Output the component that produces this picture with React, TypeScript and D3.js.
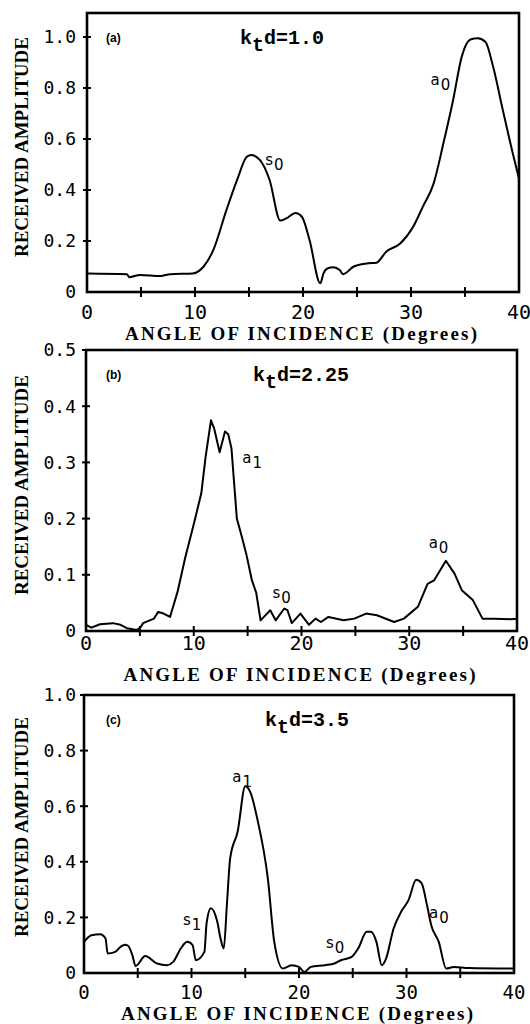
import React from "react";
import * as d3 from "d3";

// ---------- data ----------
const X_LABEL_TICKS = [0, 10, 20, 30, 40];
const X_MARK_TICKS = [5, 10, 15, 20, 25, 30, 35];

const ANGLE_A = [0, 3.7, 3.9, 4.9, 6.8, 7.7, 9.8, 10.8, 11.7, 12.9, 13.9, 14.8, 15.2, 16.0, 16.9, 17.9, 18.5, 19.3, 19.9, 20.6, 21.6, 21.9, 22.3, 22.8, 23.4, 23.7, 24.7, 25.9, 26.8, 27.7, 29.0, 30.2, 31.1, 32.1, 33.0, 33.9, 34.7, 35.5, 36.2, 36.9, 37.6, 38.5, 39.5, 40];
const AMP_A = [0.073, 0.07, 0.058, 0.067, 0.063, 0.07, 0.073, 0.1, 0.165, 0.32, 0.44, 0.53, 0.537, 0.518, 0.44, 0.28, 0.29, 0.31, 0.295, 0.205, 0.034, 0.073, 0.093, 0.097, 0.086, 0.07, 0.1, 0.112, 0.115, 0.158, 0.19, 0.256, 0.335, 0.426, 0.583, 0.753, 0.923, 0.99, 0.995, 0.98, 0.884, 0.714, 0.53, 0.445];

const ANGLE_B = [0, 0.5, 1.3, 2.5, 3.2, 3.8, 4.7, 5.0, 5.3, 6.3, 6.7, 7.2, 7.8, 8.5, 9.2, 10.0, 10.7, 11.1, 11.6, 11.9, 12.4, 12.9, 13.2, 13.5, 14.0, 14.5, 14.9, 15.4, 15.8, 16.2, 16.8, 17.1, 17.6, 18.4, 18.7, 19.1, 19.9, 20.7, 21.3, 21.8, 22.5, 23.9, 24.9, 26.0, 27.0, 28.6, 29.5, 30.8, 31.7, 32.3, 33.4, 34.2, 34.9, 35.9, 36.8, 37.9, 39.4, 40];
const AMP_B = [0.011, 0.006, 0.012, 0.014, 0.011, 0.005, 0.002, 0.005, 0.014, 0.022, 0.034, 0.031, 0.025, 0.07, 0.13, 0.19, 0.245, 0.31, 0.375, 0.36, 0.318, 0.355, 0.35, 0.325, 0.2, 0.165, 0.135, 0.09, 0.068, 0.019, 0.031, 0.037, 0.019, 0.04, 0.037, 0.014, 0.031, 0.011, 0.022, 0.016, 0.025, 0.019, 0.022, 0.031, 0.028, 0.016, 0.022, 0.043, 0.084, 0.09, 0.125, 0.102, 0.072, 0.055, 0.022, 0.022, 0.021, 0.022];

const ANGLE_C = [0, 0.7, 1.5, 2.0, 2.2, 2.9, 3.4, 3.8, 4.1, 4.5, 4.8, 5.7, 6.8, 7.7, 8.3, 9.0, 9.6, 10.1, 10.4, 11.2, 11.4, 11.8, 12.4, 12.7, 13.0, 13.3, 13.6, 14.3, 15.0, 15.5, 16.1, 17.1, 17.7, 18.5, 19.3, 20.0, 20.5, 21.1, 22.4, 23.3, 23.9, 24.9, 25.5, 26.3, 26.7, 27.2, 27.7, 28.1, 28.8, 29.5, 30.2, 30.9, 31.4, 31.9, 32.3, 33.0, 33.7, 34.4, 35.8, 40];
const AMP_C = [0.112, 0.136, 0.139, 0.124, 0.07, 0.076, 0.094, 0.102, 0.098, 0.064, 0.025, 0.061, 0.034, 0.028, 0.04, 0.088, 0.112, 0.1, 0.046, 0.076, 0.178, 0.233, 0.184, 0.124, 0.088, 0.25, 0.413, 0.51, 0.672, 0.648, 0.558, 0.34, 0.112, 0.016, 0.028, 0.022, 0.004, 0.022, 0.028, 0.034, 0.046, 0.058, 0.088, 0.148, 0.148, 0.112, 0.028, 0.052, 0.16, 0.22, 0.263, 0.335, 0.323, 0.245, 0.172, 0.112, 0.016, 0.022, 0.018, 0.016];

const Y_TICKS_A = [0, 0.2, 0.4, 0.6, 0.8, 1.0];
const Y_TICKS_B = [0, 0.1, 0.2, 0.3, 0.4, 0.5];
const Y_TICKS_C = [0, 0.2, 0.4, 0.6, 0.8, 1.0];

const KTD_A = "1.0";
const KTD_B = "2.25";
const KTD_C = "3.5";

// mode labels: [letter, subscript, angle, amplitude]
const MODES_A: [string, string, number, number][] = [["s", "0", 16.5, 0.498], ["a", "0", 31.8, 0.812]];
const MODES_B: [string, string, number, number][] = [["a", "1", 14.5, 0.299], ["s", "0", 17.3, 0.059], ["a", "0", 31.8, 0.148]];
const MODES_C: [string, string, number, number][] = [["a", "1", 13.8, 0.687], ["s", "1", 9.2, 0.173], ["s", "0", 22.5, 0.09], ["a", "0", 32.1, 0.198]];

const X_TITLE = "ANGLE OF INCIDENCE (Degrees)";
const Y_TITLE = "RECEIVED AMPLITUDE";

// ---------- layout ----------
const MONO = "'Liberation Mono', 'Courier New', monospace";
const SERIF = "'Liberation Serif', 'Times New Roman', serif";
const TICKF = "'DejaVu Sans Mono', monospace";
const SANS = "'DejaVu Sans', sans-serif";

type PanelProps = {
  tag: string;
  ktd: string;
  angles: number[];
  amps: number[];
  yTicks: number[];
  yMax: number;
  modes: [string, string, number, number][];
  left: number;
  right: number;
  top: number;
  bottom: number;
  tickLabelDy: number;
  tickFont: number;
  titleDy: number;
  yTitleY: number;
  ktdX: number;
  smooth: boolean;
};

function Panel(p: PanelProps) {
  const x = d3.scaleLinear().domain([0, 40]).range([p.left, p.right]);
  const y = d3.scaleLinear().domain([0, p.yMax]).range([p.bottom, p.top]);
  const pts = p.angles.map((a, i) => [a, p.amps[i]] as [number, number]);
  const line = d3
    .line<[number, number]>()
    .x((d) => x(d[0]))
    .y((d) => y(d[1]))
    .curve(p.smooth ? d3.curveMonotoneX : d3.curveLinear);
  const fmt = (v: number) => (v === 0 ? "0" : d3.format(".1f")(v));
  const innerTop = y(p.yMax);
  const cx = (p.left + p.right) / 2 - 2;
  return (
    <g>
      {/* curve */}
      <path d={line(pts) || ""} fill="none" stroke="#000" strokeWidth={2} strokeLinejoin="round" />
      {/* frame */}
      <rect x={p.left} y={innerTop} width={p.right - p.left} height={p.bottom - innerTop} fill="none" stroke="#000" strokeWidth={2.6} />
      {/* y ticks */}
      {p.yTicks.map((t) => (
        <g key={"y" + t}>
          {t > 0 && <line x1={p.left - 4} x2={p.left + 4} y1={y(t)} y2={y(t)} stroke="#000" strokeWidth={2} />}
          <text x={76} y={y(t)} dy="0.36em" textAnchor="end" fontFamily={TICKF} fontSize={18} fill="#000">
            {fmt(t)}
          </text>
        </g>
      ))}
      {/* x ticks */}
      {X_MARK_TICKS.map((t) => (
        <line key={"xt" + t} x1={x(t)} x2={x(t)} y1={p.bottom - 5} y2={p.bottom + 5} stroke="#000" strokeWidth={2} />
      ))}
      {X_LABEL_TICKS.map((t) => (
        <text key={"xl" + t} x={x(t)} y={p.bottom + p.tickLabelDy} textAnchor="middle" fontFamily={TICKF} fontSize={p.tickFont} fill="#000">
          {t}
        </text>
      ))}
      {/* axis titles */}
      <text
        x={cx - 176}
        y={p.bottom + p.titleDy}
        textLength={352}
        lengthAdjust="spacing"
        fontFamily={SERIF}
        fontWeight="bold"
        fontSize={19}
        fill="#000"
      >
        {X_TITLE}
      </text>
      <text
        transform={`translate(28,${p.yTitleY + 110}) rotate(-90)`}
        textLength={220}
        lengthAdjust="spacing"
        fontFamily={SERIF}
        fontWeight="bold"
        fontSize={19}
        fill="#000"
      >
        {Y_TITLE}
      </text>
      {/* panel tag */}
      <text x={106} y={innerTop + 29} fontFamily="'Liberation Sans', Arial, sans-serif" fontWeight="bold" fontSize={12} fill="#000">
        {p.tag}
      </text>
      {/* ktd title */}
      <text x={p.ktdX} y={innerTop + 31} fontFamily={MONO} fontWeight="bold" fontSize={20} fill="#000">
        k
        <tspan dy={7}>t</tspan>
        <tspan dy={-7}>{"d=" + p.ktd}</tspan>
      </text>
      {/* mode labels */}
      {p.modes.map(([b, s, a, v]) => (
        <text key={b + s} x={x(a)} y={y(v)} fontFamily={SANS} fontSize={15} fill="#000">
          {b}
          <tspan dx={1} dy={5} fontSize={15}>
            {s}
          </tspan>
        </text>
      ))}
    </g>
  );
}

export default function App() {
  return (
    <svg width={530} height={1024} style={{ position: "absolute", left: 0, top: 0, background: "#fff" }}>
      <rect x={0} y={0} width={530} height={1024} fill="#fff" />
      <Panel
        tag="(a)"
        ktd={KTD_A}
        angles={ANGLE_A}
        amps={AMP_A}
        yTicks={Y_TICKS_A}
        yMax={1.094}
        modes={MODES_A}
        left={87}
        right={519}
        top={13}
        bottom={292}
        tickLabelDy={27}
        tickFont={20}
        titleDy={48}
        yTitleY={147}
        ktdX={240}
        smooth={true}
      />
      <Panel
        tag="(b)"
        ktd={KTD_B}
        angles={ANGLE_B}
        amps={AMP_B}
        yTicks={Y_TICKS_B}
        yMax={0.5}
        modes={MODES_B}
        left={86}
        right={517}
        top={350}
        bottom={631}
        tickLabelDy={19}
        tickFont={20}
        titleDy={50}
        yTitleY={485}
        ktdX={253}
        smooth={false}
      />
      <Panel
        tag="(c)"
        ktd={KTD_C}
        angles={ANGLE_C}
        amps={AMP_C}
        yTicks={Y_TICKS_C}
        yMax={1.0}
        modes={MODES_C}
        left={84}
        right={514}
        top={695}
        bottom={973}
        tickLabelDy={26}
        tickFont={19}
        titleDy={47}
        yTitleY={827}
        ktdX={265}
        smooth={true}
      />
    </svg>
  );
}
